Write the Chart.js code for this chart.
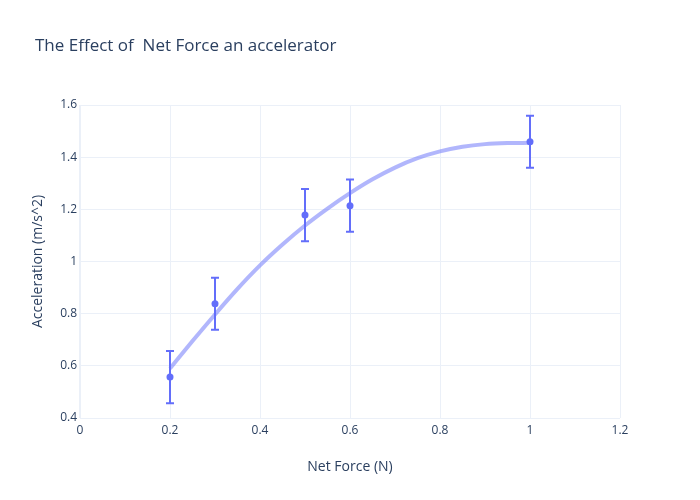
<!DOCTYPE html>
<html>
<head>
<meta charset="utf-8">
<script src="https://cdn.jsdelivr.net/npm/chart.js@4"></script>
<style>
  html, body { margin: 0; padding: 0; background: #fff; }
  #wrap { width: 700px; height: 500px; }
</style>
</head>
<body>
<div id="wrap"><canvas id="chart"></canvas></div>
<script>
// measured points
const forceValues = [0.2, 0.3, 0.5, 0.6, 1.0];
const accelValues = [0.557, 0.838, 1.178, 1.214, 1.459];
const accelErrors = [0.1, 0.1, 0.1, 0.1, 0.1];

// fitted curve
const fitForce = [0.2, 0.25, 0.3, 0.35, 0.4, 0.45, 0.5, 0.55, 0.6, 0.65, 0.7, 0.75, 0.8, 0.85, 0.9, 0.95, 1.0];
const fitAccel = [0.59, 0.695, 0.797, 0.895, 0.985, 1.065, 1.138, 1.203, 1.262, 1.315, 1.36, 1.396, 1.422, 1.44, 1.45, 1.454, 1.455];

const xTicks = [0, 0.2, 0.4, 0.6, 0.8, 1, 1.2];
const yTicks = [0.4, 0.6, 0.8, 1, 1.2, 1.4, 1.6];

const textColor = '#2a3f5f';
const gridColor = '#ebf0f8';
const markerColor = '#636efa';

const titlePlugin = {
  id: 'plotly-title',
  afterDraw(chart) {
    const ctx = chart.ctx;
    ctx.save();
    ctx.font = '17px "Open Sans"';
    ctx.fillStyle = textColor;
    ctx.textAlign = 'left';
    ctx.textBaseline = 'alphabetic';
    ctx.fillText('The Effect of  Net Force an accelerator', 35, 51);
    ctx.restore();
  }
};

const errorBars = {
  id: 'error-bars',
  afterDatasetsDraw(chart) {
    const { ctx, scales: { x, y } } = chart;
    ctx.save();
    ctx.strokeStyle = markerColor;
    ctx.lineWidth = 2;
    forceValues.forEach((f, i) => {
      const px = x.getPixelForValue(f);
      const top = y.getPixelForValue(accelValues[i] + accelErrors[i]);
      const bot = y.getPixelForValue(accelValues[i] - accelErrors[i]);
      ctx.beginPath();
      ctx.moveTo(px, top);
      ctx.lineTo(px, bot);
      ctx.moveTo(px - 4, top);
      ctx.lineTo(px + 4, top);
      ctx.moveTo(px - 4, bot);
      ctx.lineTo(px + 4, bot);
      ctx.stroke();
    });
    ctx.restore();
  }
};

Chart.defaults.font.family = '"Open Sans", sans-serif';
Chart.defaults.color = textColor;

new Chart(document.getElementById('chart'), {
  type: 'scatter',
  data: {
    datasets: [
      {
        label: 'data',
        data: forceValues.map((f, i) => ({ x: f, y: accelValues[i] })),
        backgroundColor: markerColor,
        borderColor: markerColor,
        pointRadius: 3.5,
        pointBorderWidth: 0
      },
      {
        label: 'fit',
        data: fitForce.map((f, i) => ({ x: f, y: fitAccel[i] })),
        showLine: true,
        borderColor: 'rgba(99,110,250,0.5)',
        borderWidth: 4,
        pointRadius: 0,
        cubicInterpolationMode: 'monotone'
      }
    ]
  },
  options: {
    responsive: true,
    maintainAspectRatio: false,
    animation: false,
    layout: { padding: { top: 105, right: 80, left: 0, bottom: 0 } },
    plugins: {
      legend: { display: false },
      tooltip: { enabled: false }
    },
    scales: {
      x: {
        type: 'linear',
        min: 0,
        max: 1.2,
        afterFit: s => { s.height = 82; },
        afterBuildTicks: s => { s.ticks = xTicks.map(v => ({ value: v })); },
        grid: { color: gridColor,
                lineWidth: ctx => ctx.tick && ctx.tick.value === 0 ? 2 : 1,
                drawTicks: false },
        border: { display: false },
        ticks: { padding: 5, font: { size: 12 }, color: textColor, maxRotation: 0,
                 callback: v => String(v) },
        title: { display: true, text: 'Net Force (N)', font: { size: 14 }, color: textColor, padding: { top: 0, bottom: 25 } }
      },
      y: {
        type: 'linear',
        min: 0.4,
        max: 1.6,
        afterFit: s => { s.width = 80; },
        afterBuildTicks: s => { s.ticks = yTicks.map(v => ({ value: v })); },
        grid: { color: gridColor, drawTicks: false },
        border: { display: false },
        ticks: { padding: 3, font: { size: 12 }, color: textColor,
                 callback: v => String(v) },
        title: { display: true, text: 'Acceleration (m/s^2)', font: { size: 14 }, color: textColor, padding: { top: 30, bottom: 0 } }
      }
    }
  },
  plugins: [titlePlugin, errorBars]
});
</script>
</body>
</html>
